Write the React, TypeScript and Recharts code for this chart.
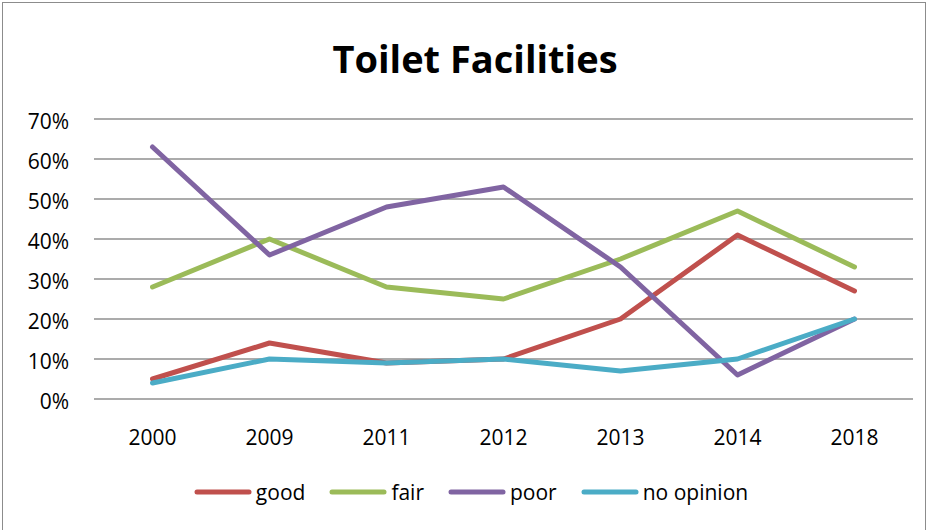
import React from 'react';
import { LineChart, Line, XAxis, YAxis, CartesianGrid, Legend } from 'recharts';

const years = ['2000', '2009', '2011', '2012', '2013', '2014', '2018'];
const good = [5, 14, 9, 10, 20, 41, 27];
const fair = [28, 40, 28, 25, 35, 47, 33];
const poor = [63, 36, 48, 53, 33, 6, 20];
const noOpinion = [4, 10, 9, 10, 7, 10, 20];
const yTicks = [0, 10, 20, 30, 40, 50, 60, 70];

const seriesKeys = ['good', 'fair', 'poor', 'noOpinion'];
const seriesNames = ['good', 'fair', 'poor', 'no opinion'];
const seriesColors = ['#C0504D', '#9BBB59', '#8064A2', '#4BACC6'];

const data = years.map((year, i) => ({
  year,
  good: good[i],
  fair: fair[i],
  poor: poor[i],
  noOpinion: noOpinion[i],
}));

const FONT = '"Open Sans", "Noto Sans", sans-serif';

const renderLegend = () => (
  <div
    style={{
      display: 'flex',
      justifyContent: 'center',
      alignItems: 'center',
      fontFamily: FONT,
      fontSize: 21,
      color: '#000',
      paddingLeft: 12,
    }}
  >
    {seriesNames.map((name, i) => (
      <div key={name} style={{ display: 'flex', alignItems: 'center', marginRight: i < 3 ? 24 : 0 }}>
        <svg width={58} height={10} style={{ marginRight: 4 }}>
          <line x1={3} y1={5} x2={55} y2={5} stroke={seriesColors[i]} strokeWidth={5} strokeLinecap="round" />
        </svg>
        <span style={{ lineHeight: '24px' }}>{name}</span>
      </div>
    ))}
  </div>
);

export default function App() {
  return (
    <div
      style={{
        position: 'absolute',
        left: 0,
        top: 0,
        width: 930,
        height: 530,
        background: '#fff',
        overflow: 'hidden',
      }}
    >
      <div
        style={{
          position: 'absolute',
          left: 2,
          top: 2,
          width: 924,
          height: 560,
          border: '1px solid #8c8c8c',
          boxSizing: 'border-box',
        }}
      />
      <div
        style={{
          position: 'absolute',
          left: 225,
          width: 500,
          top: 38,
          lineHeight: '40px',
          textAlign: 'center',
          fontFamily: FONT,
          fontWeight: 700,
          fontSize: 38,
          color: '#000',
        }}
      >
        Toilet Facilities
      </div>
      <div style={{ position: 'absolute', left: 0, top: 0 }}>
        <LineChart width={930} height={530} data={data} margin={{ top: 119, right: 17, bottom: 101, left: 34 }}>
          <CartesianGrid vertical={false} stroke="#8f8f8f" strokeWidth={1.6} />
          <XAxis
            dataKey="year"
            height={30}
            axisLine={false}
            tickLine={false}
            tickSize={0}
            tickMargin={31}
            padding={{ left: 58.5, right: 58.5 }}
            interval={0}
            tick={{ fill: '#000', fontSize: 21, fontFamily: FONT }}
          />
          <YAxis
            width={60}
            domain={[0, 70]}
            ticks={yTicks}
            tickFormatter={(v: number) => `${v}%`}
            axisLine={false}
            tickLine={false}
            tickSize={0}
            tickMargin={25}
            interval={0}
            tick={{ fill: '#000', fontSize: 21, fontFamily: FONT, dy: 3 }}
          />
          <Legend
            layout="horizontal"
            verticalAlign="middle"
            align="center"
            wrapperStyle={{ top: 480, left: 0, width: 930 }}
            content={renderLegend}
          />
          {seriesKeys.map((key, i) => (
            <Line
              key={key}
              type="linear"
              dataKey={key}
              name={seriesNames[i]}
              stroke={seriesColors[i]}
              strokeWidth={5}
              strokeLinecap="round"
              strokeLinejoin="round"
              dot={false}
              activeDot={false}
              isAnimationActive={false}
            />
          ))}
        </LineChart>
      </div>
    </div>
  );
}
